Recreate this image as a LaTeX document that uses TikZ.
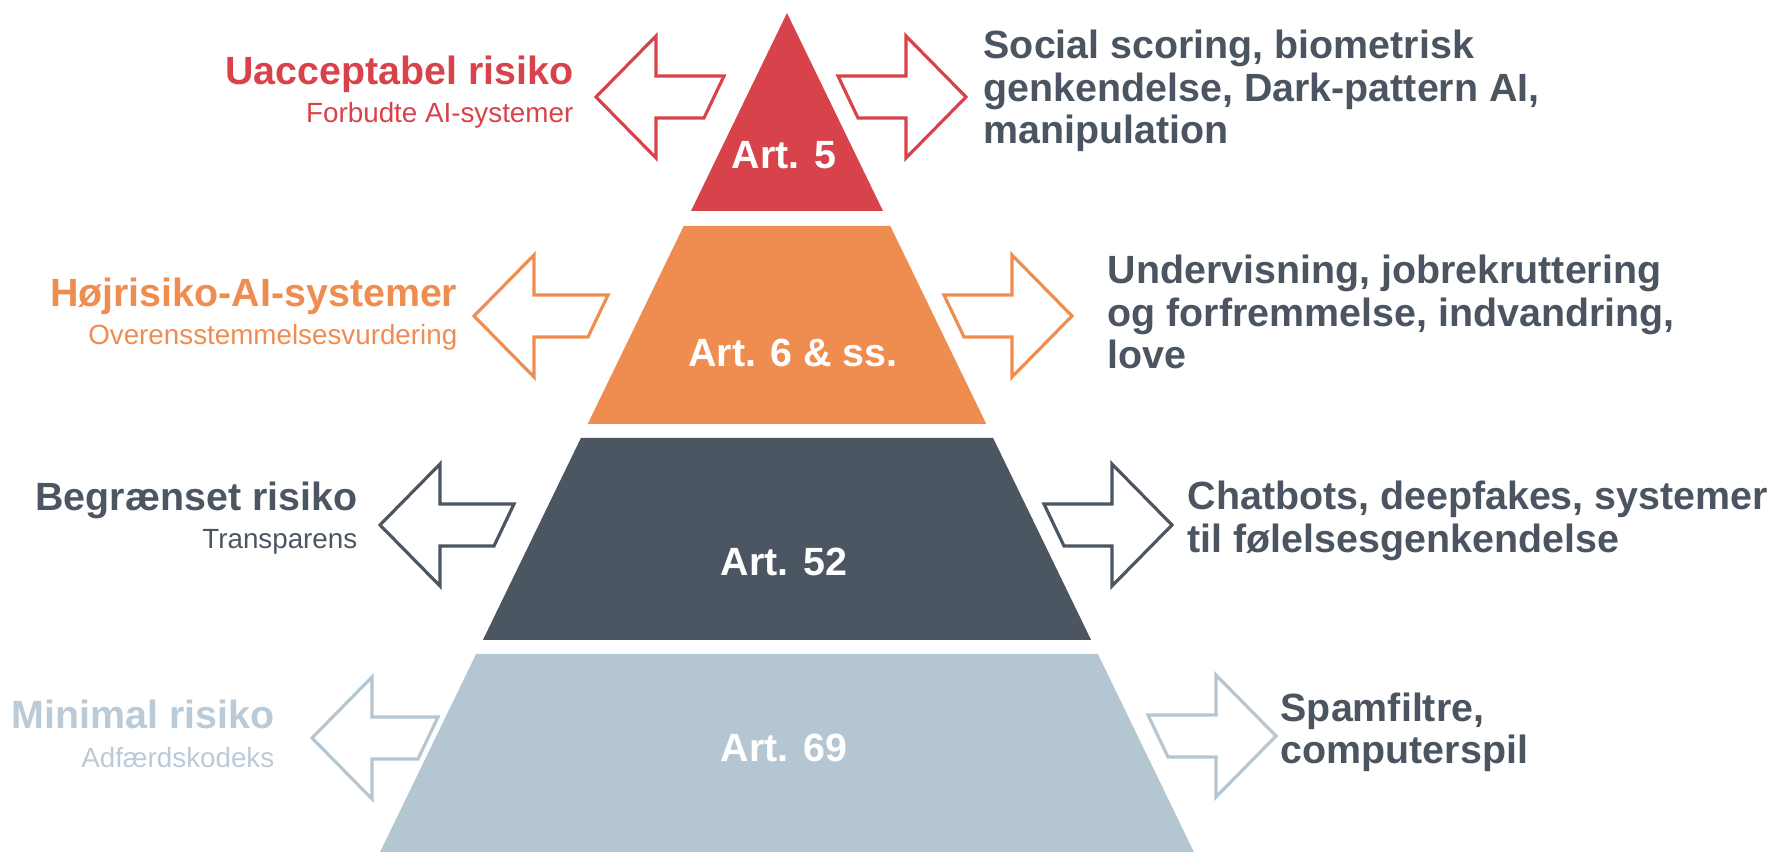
\documentclass[tikz,border=0pt]{standalone}
\usepackage{fontspec}
\setmainfont{Liberation Sans}
\usetikzlibrary{positioning}

\definecolor{riskred}{HTML}{D8434B}
\definecolor{riskorange}{HTML}{EF8C4F}
\definecolor{riskdark}{HTML}{4B5662}
\definecolor{risklight}{HTML}{B5C6D3}
\definecolor{textgray}{HTML}{4B5561}
\definecolor{lighttext}{HTML}{BACAD6}

% block arrows: colour, tip x, centre y, tail x
\newcommand{\arrowleft}[4]{%
    \draw[arr,draw=#1] (#2,#3) -- ({#2+60},{#3-61}) -- ({#2+60},{#3-21}) -- ({#4+10},{#3-21})
        -- ({#4-10},{#3+21}) -- ({#2+60},{#3+21}) -- ({#2+60},{#3+61}) -- cycle;}
\newcommand{\arrowright}[4]{%
    \draw[arr,draw=#1] (#2,#3) -- ({#2-60},{#3-61}) -- ({#2-60},{#3-21}) -- ({#4-10},{#3-21})
        -- ({#4+10},{#3+21}) -- ({#2-60},{#3+21}) -- ({#2-60},{#3+61}) -- cycle;}

\begin{document}
\begin{tikzpicture}[x=0.01cm,y=-0.01cm,
    arr/.style={line width=0.9pt,fill=white,line join=miter},
    artlabel/.style={text=white,font=\fontsize{11.2}{13}\selectfont\bfseries},
    level/.style={anchor=east,align=right,inner sep=0pt},
    examples/.style={anchor=west,align=left,inner sep=0pt,text=textgray,
        font=\fontsize{11.2}{12}\selectfont\bfseries}]
    \useasboundingbox (0,0) rectangle (1772,852);

    % pyramid
    \fill[riskred] (787,13) -- (883,211) -- (691,211) -- cycle;
    \fill[riskorange] (683.7,226) -- (890.3,226) -- (986.3,424) -- (587.7,424) -- cycle;
    \fill[riskdark] (580.9,438) -- (993.1,438) -- (1091.1,640) -- (482.9,640) -- cycle;
    \fill[risklight] (476.1,654) -- (1097.9,654) -- (1193.9,852) -- (380.1,852) -- cycle;

    \node[artlabel] (art5) at (784,155) {Art. 5};
    \node[artlabel] (art6) at (793,353) {Art. 6 \& ss.};
    \node[artlabel] (art52) at (784,562) {Art. 52};
    \node[artlabel] (art69) at (784,748) {Art. 69};

    % arrows
    \arrowleft{riskred}{596}{97}{714}
    \arrowright{riskred}{966}{97}{848}
    \arrowleft{riskorange}{474}{316}{598}
    \arrowright{riskorange}{1072}{316}{954}
    \arrowleft{riskdark}{380}{525}{504}
    \arrowright{riskdark}{1172}{525}{1054}
    \arrowleft{risklight}{312}{738}{428}
    \arrowright{risklight}{1276}{736}{1158}

    % levels
    \node[level,text=riskred] (unacc) at (574,92)
        {{\fontsize{11.2}{10.5}\selectfont\bfseries Uacceptabel risiko}\\[-1pt]{\fontsize{7.9}{9}\selectfont Forbudte AI-systemer}};
    \node[level,text=riskorange] (high) at (458,314)
        {{\fontsize{11.2}{10.5}\selectfont\bfseries Højrisiko-AI-systemer}\\[-1pt]{\fontsize{7.9}{9}\selectfont Overensstemmelsesvurdering}};
    \node[level,text=riskdark] (limited) at (358,518)
        {{\fontsize{11.2}{10.5}\selectfont\bfseries Begrænset risiko}\\[-1pt]{\fontsize{7.9}{9}\selectfont Transparens}};
    \node[level,text=lighttext] (minimal) at (275,734)
        {{\fontsize{11.2}{10.5}\selectfont\bfseries Minimal risiko}\\[-1pt]{\fontsize{7.9}{9}\selectfont Adfærdskodeks}};

    % examples
    \node[examples] (ex5) at (983,91) {Social scoring, biometrisk\\genkendelse, Dark-pattern AI,\\manipulation};
    \node[examples] (ex6) at (1107,312) {Undervisning, jobrekruttering\\og forfremmelse, indvandring,\\love};
    \node[examples] (ex52) at (1187,521) {Chatbots, deepfakes, systemer\\til følelsesgenkendelse};
    \node[examples] (ex69) at (1280,732) {Spamfiltre,\\computerspil};
\end{tikzpicture}
\end{document}
